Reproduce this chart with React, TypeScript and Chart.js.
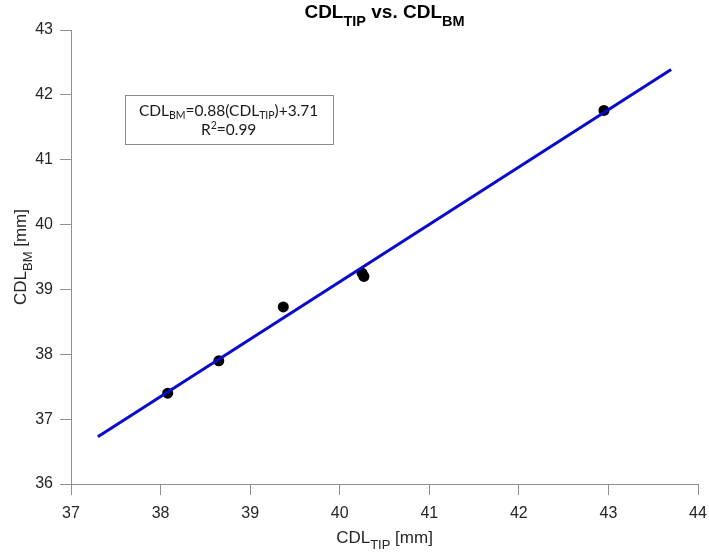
import React, { useEffect, useRef } from 'react';
import { Chart, registerables } from 'chart.js';

Chart.register(...registerables);

// Measured data
const cdlTip = [38.08, 38.65, 39.37, 40.25, 40.27, 42.95];
const cdlBm = [37.4, 37.9, 38.73, 39.25, 39.2, 41.76];

// Regression line end points
const fitX = [37.3, 43.7];
const fitY = [36.73, 42.39];

// Axis ranges
const xRange = [37, 44];
const yRange = [36, 43];

// Annotation box (data coordinates)
const boxX = [37.6, 39.92];
const boxY = [41.25, 42.0];

type Seg = { t: string; sub?: boolean; sup?: boolean };

const titleSegs: Seg[] = [
  { t: 'CDL' }, { t: 'TIP', sub: true }, { t: ' vs. CDL' }, { t: 'BM', sub: true },
];
const xTitleSegs: Seg[] = [{ t: 'CDL' }, { t: 'TIP', sub: true }, { t: ' [mm]' }];
const yTitleSegs: Seg[] = [{ t: 'CDL' }, { t: 'BM', sub: true }, { t: ' [mm]' }];
const eqSegs: Seg[] = [
  { t: 'CDL' }, { t: 'BM', sub: true }, { t: '=0.88(CDL' }, { t: 'TIP', sub: true }, { t: ')+3.71' },
];
const r2Segs: Seg[] = [{ t: 'R' }, { t: '2', sup: true }, { t: '=0.99' }];

const SANS = '"Liberation Sans", Arial, sans-serif';
const BOXFONT = 'Lato, "Liberation Sans", sans-serif';

function drawRich(
  ctx: CanvasRenderingContext2D,
  segs: Seg[],
  x: number,
  y: number,
  size: number,
  subSize: number,
  subDy: number,
  weight: string,
  family: string,
  color: string
) {
  const fontOf = (s: Seg) => `${weight} ${s.sub || s.sup ? subSize : size}px ${family}`;
  const widths = segs.map((s) => {
    ctx.font = fontOf(s);
    return ctx.measureText(s.t).width;
  });
  const total = widths.reduce((a, b) => a + b, 0);
  let cx = x - total / 2;
  ctx.fillStyle = color;
  ctx.textAlign = 'left';
  ctx.textBaseline = 'alphabetic';
  segs.forEach((s, i) => {
    ctx.font = fontOf(s);
    const dy = s.sub ? subDy : s.sup ? -size * 0.38 : 0;
    ctx.fillText(s.t, cx, y + dy);
    cx += widths[i];
  });
}

const decorPlugin = {
  id: 'decor',
  afterDraw(chart: any) {
    const { ctx, chartArea, scales } = chart;
    const cxMid = (chartArea.left + chartArea.right) / 2;
    const cyMid = (chartArea.top + chartArea.bottom) / 2;
    ctx.save();
    // Title
    drawRich(ctx, titleSegs, cxMid, 18, 19, 14.5, 8, 'bold', SANS, '#000');
    // X title
    drawRich(ctx, xTitleSegs, cxMid, 543, 17, 13, 6, 'normal', SANS, '#262626');
    // Y title
    ctx.save();
    ctx.translate(26, cyMid);
    ctx.rotate(-Math.PI / 2);
    drawRich(ctx, yTitleSegs, 0, 0, 17, 13, 6, 'normal', SANS, '#262626');
    ctx.restore();
    // Annotation box
    const x0 = scales.x.getPixelForValue(boxX[0]);
    const x1 = scales.x.getPixelForValue(boxX[1]);
    const y0 = scales.y.getPixelForValue(boxY[1]);
    const y1 = scales.y.getPixelForValue(boxY[0]);
    ctx.fillStyle = '#fff';
    ctx.fillRect(x0, y0, x1 - x0, y1 - y0);
    ctx.strokeStyle = '#8a8a8a';
    ctx.lineWidth = 1;
    ctx.strokeRect(Math.round(x0) + 0.5, Math.round(y0) + 0.5, Math.round(x1 - x0), Math.round(y1 - y0));
    const bx = (x0 + x1) / 2;
    drawRich(ctx, eqSegs, bx, y0 + 21, 15.5, 10.5, 3, 'normal', BOXFONT, '#1a1a1a');
    drawRich(ctx, r2Segs, bx, y0 + 40, 15.5, 10.5, 3, 'normal', BOXFONT, '#1a1a1a');
    ctx.restore();
  },
};

export default function App() {
  const ref = useRef<HTMLCanvasElement | null>(null);
  useEffect(() => {
    if (!ref.current) return;
    const axisColor = '#8f8f8f';
    const tickFont = { family: SANS, size: 16 };
    const chart = new Chart(ref.current, {
      type: 'scatter',
      data: {
        datasets: [
          {
            type: 'line',
            label: 'fit',
            data: fitX.map((x, i) => ({ x, y: fitY[i] })),
            borderColor: '#0a0acc',
            borderWidth: 3,
            pointRadius: 0,
            fill: false,
            order: 0,
          } as any,
          {
            label: 'data',
            data: cdlTip.map((x, i) => ({ x, y: cdlBm[i] })),
            backgroundColor: '#000',
            borderColor: '#000',
            pointRadius: 5.5,
            borderWidth: 0,
            order: 1,
          },
        ],
      },
      options: {
        animation: false,
        responsive: true,
        maintainAspectRatio: false,
        layout: { padding: { top: 30, right: 11, left: 0, bottom: 0 } },
        plugins: { legend: { display: false }, tooltip: { enabled: false }, title: { display: false } },
        scales: {
          x: {
            type: 'linear',
            min: xRange[0],
            max: xRange[1],
            ticks: { stepSize: 1, font: tickFont, color: '#262626', padding: 9 },
            grid: { drawOnChartArea: false, drawTicks: true, tickLength: 11, color: axisColor },
            border: { color: axisColor, width: 1 },
            afterFit: (s: any) => {
              s.height = 72;
              s.paddingRight = 0;
              s.paddingLeft = 0;
            },
          },
          y: {
            type: 'linear',
            min: yRange[0],
            max: yRange[1],
            ticks: { stepSize: 1, font: tickFont, color: '#262626', padding: 7 },
            grid: { drawOnChartArea: false, drawTicks: true, tickLength: 11, color: axisColor },
            border: { color: axisColor, width: 1 },
            afterFit: (s: any) => {
              s.width = 71;
              s.paddingTop = 0;
              s.paddingBottom = 0;
            },
          },
        },
      },
      plugins: [decorPlugin],
    });
    return () => chart.destroy();
  }, []);
  return (
    <div style={{ position: 'absolute', left: 0, top: 0, width: 709, height: 556, background: '#fff' }}>
      <canvas ref={ref} />
    </div>
  );
}
